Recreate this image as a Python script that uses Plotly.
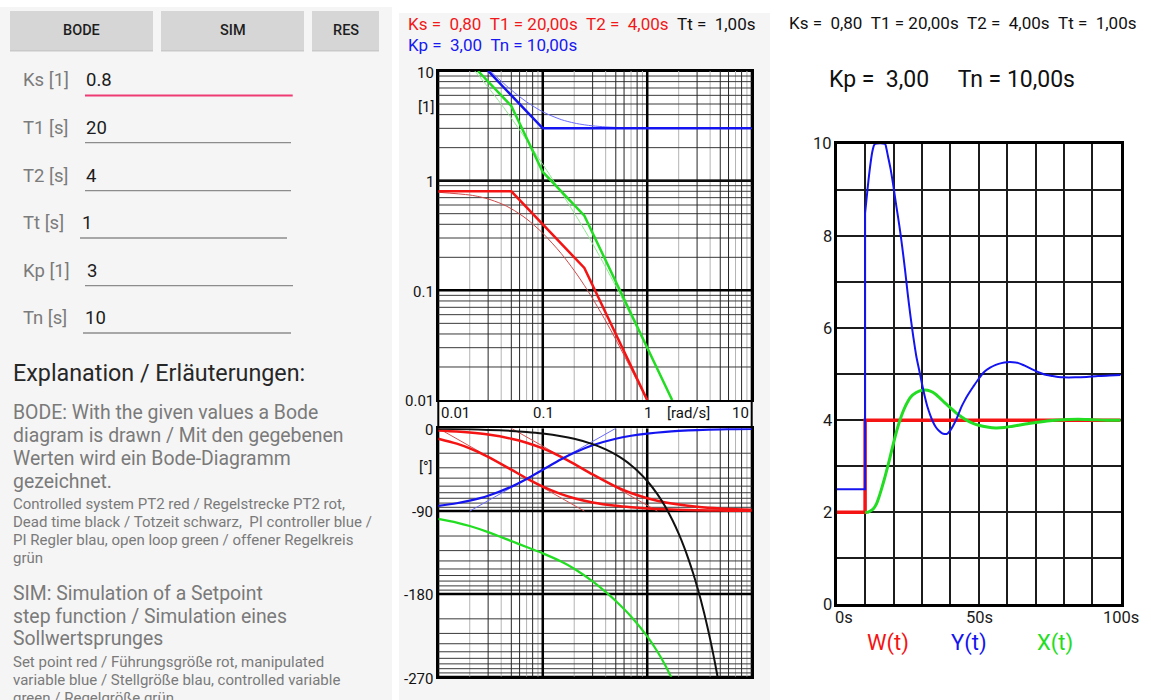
import math
import plotly.graph_objects as go

W, H = 1151, 700
FONT = "Roboto"

RED, BLUE, GREEN, BLACK = "#f51414", "#1414f0", "#22dd22", "#111111"

# ---------------- Bode magnitude (|G|) ----------------
# exact curves (thin)
W_RED = [0.01, 0.02, 0.025, 0.03, 0.04, 0.05, 0.07, 0.1, 0.15, 0.2, 0.25, 0.3, 0.4, 0.5, 0.7, 1.0]
MAG_RED = [0.784, 0.740, 0.712, 0.681, 0.617, 0.555, 0.448, 0.332, 0.217, 0.1515, 0.111, 0.0842,
           0.0526, 0.0356, 0.0192, 0.0097]
W_BLUE = [0.025, 0.03, 0.04, 0.05, 0.07, 0.1, 0.15, 0.2, 0.25, 0.3, 0.4, 0.5, 0.7, 1.0, 1.5, 2.0, 3.0, 5.0, 10.0]
MAG_BLUE = [12.37, 10.44, 8.08, 6.71, 5.23, 4.243, 3.606, 3.354, 3.231, 3.162, 3.092, 3.059, 3.030,
            3.015, 3.007, 3.004, 3.002, 3.001, 3.0]
W_GREEN = [0.02, 0.025, 0.03, 0.04, 0.05, 0.07, 0.1, 0.15, 0.2, 0.25, 0.3, 0.4, 0.5, 0.7, 1.0, 1.5, 2.0]
MAG_GREEN = [11.32, 8.81, 7.11, 4.985, 3.72, 2.343, 1.409, 0.7825, 0.508, 0.358, 0.2662, 0.1626,
             0.1089, 0.0582, 0.0292, 0.01317, 0.00745]

# asymptotes (thick)
W_RED_ASY = [0.01, 0.05, 0.25, 1.0]
MAG_RED_ASY = [0.8, 0.8, 0.16, 0.01]
W_BLUE_ASY = [0.03, 0.1, 10.0]
MAG_BLUE_ASY = [10.0, 3.0, 3.0]
W_GREEN_ASY = [0.024, 0.05, 0.1, 0.25, 1.732]
MAG_GREEN_ASY = [10.0, 4.8, 1.2, 0.48, 0.01]
W_DEAD_MAG = [0.01, 10.0]
MAG_DEAD = [1.0, 1.0]

# ---------------- Bode phase (deg) ----------------
W_PH = [0.01, 0.015, 0.02, 0.03, 0.05, 0.07, 0.1, 0.15, 0.2, 0.3, 0.5, 0.7, 1.0, 1.5, 2.0, 3.0, 5.0, 7.0, 10.0]
PH_PT1_A = [-11.31, -16.70, -21.80, -30.96, -45.00, -54.46, -63.43, -71.57, -75.96, -80.54, -84.29,
            -85.91, -87.14, -88.09, -88.57, -89.05, -89.43, -89.59, -89.71]
PH_PT1_B = [-2.29, -3.43, -4.57, -6.84, -11.31, -15.64, -21.80, -30.96, -38.66, -50.19, -63.43,
            -70.35, -75.96, -80.54, -82.87, -85.24, -87.14, -87.95, -88.57]
PH_PI = [-84.29, -81.47, -78.69, -73.30, -63.43, -55.01, -45.00, -33.69, -26.57, -18.43, -11.31,
         -8.13, -5.71, -3.81, -2.86, -1.91, -1.15, -0.82, -0.57]

W_DT = [0.01, 0.02, 0.03, 0.05, 0.07, 0.1, 0.15, 0.2, 0.3, 0.4, 0.5, 0.6, 0.7, 0.8, 1.0, 1.25, 1.5,
        1.75, 2.0, 2.25, 2.5, 2.75, 3.0, 3.25, 3.5, 3.75, 4.0, 4.25, 4.5, 4.75]
PH_DT = [-0.57, -1.15, -1.72, -2.86, -4.01, -5.73, -8.59, -11.46, -17.19, -22.92, -28.65, -34.38,
         -40.11, -45.84, -57.30, -71.62, -85.94, -100.27, -114.59, -128.92, -143.24, -157.56,
         -171.89, -186.21, -200.54, -214.86, -229.18, -243.51, -257.83, -272.16]

W_OL = [0.01, 0.015, 0.02, 0.03, 0.05, 0.07, 0.1, 0.15, 0.2, 0.3, 0.4, 0.5, 0.7, 1.0, 1.25, 1.5, 1.75]
PH_OL = [-98.46, -102.46, -106.21, -112.82, -122.60, -129.12, -135.96, -144.81, -152.65, -166.35,
         -177.82, -187.68, -204.50, -226.11, -242.59, -258.38, -273.77]

W_PT1_A_ASY, PH_PT1_A_ASY = [0.01, 0.25], [0.0, -90.0]
W_PT1_B_ASY, PH_PT1_B_ASY = [0.05, 1.25], [0.0, -90.0]
W_PI_ASY, PH_PI_ASY = [0.02, 0.5], [-90.0, 0.0]

# ---------------- step response ----------------
T_W = [0, 10, 10, 100]
W_T = [2, 2, 4, 4]
# manipulated variable: constant part and jump at the setpoint step
T_Y_STEP = [0, 10, 10]
Y_T_STEP = [2.5, 2.5, 8.5]
# manipulated variable after the step
T_Y = [10, 10.5, 11, 11.5, 12, 12.5, 13, 13.5, 17, 17.5, 18, 19, 20, 21, 22, 23, 24, 25, 26,
       27, 28, 29, 30, 31, 32, 33, 34, 35, 36, 37, 38, 39, 40, 41, 42, 43, 44, 45, 46, 48, 50, 52,
       54, 56, 58, 60, 62, 64, 66, 68, 70, 72, 74, 76, 78, 80, 84, 88, 92, 96, 100]
Y_T = [8.5, 8.8, 9.1, 9.38, 9.62, 9.82, 9.95, 10.0, 10.0, 9.9, 9.75, 9.45, 9.07, 8.65,
       8.25, 7.8, 7.3, 6.75, 6.25, 5.8, 5.4, 5.1, 4.8, 4.52, 4.28, 4.1, 3.95, 3.84, 3.77, 3.72, 3.7,
       3.71, 3.78, 3.88, 4.0, 4.15, 4.3, 4.42, 4.53, 4.72, 4.9, 5.05, 5.14, 5.2, 5.24, 5.26, 5.26,
       5.24, 5.19, 5.13, 5.07, 5.02, 4.98, 4.96, 4.94, 4.93, 4.93, 4.94, 4.96, 4.97, 4.98]
T_X = [10, 11, 12, 13, 14, 15, 16, 17, 18, 19, 20, 21, 22, 23, 24, 25, 26, 28, 30, 32, 34, 36, 38,
       40, 42, 44, 46, 48, 50, 53, 56, 59, 62, 66, 70, 75, 80, 85, 90, 95, 100]
X_T = [2.0, 2.0, 2.03, 2.08, 2.18, 2.35, 2.55, 2.77, 3.0, 3.25, 3.5, 3.74, 3.95, 4.13, 4.28, 4.4,
       4.5, 4.6, 4.65, 4.65, 4.6, 4.5, 4.38, 4.27, 4.16, 4.07, 3.99, 3.93, 3.89, 3.85, 3.83, 3.84,
       3.87, 3.91, 3.95, 3.99, 4.01, 4.02, 4.01, 4.0, 4.0]

DECADES = [0.01, 0.1, 1.0]
MINOR_K = [2, 3, 4, 5, 6, 7, 8, 9]
LIGHT_K = [2, 4, 7, 9]


def nb(s):
    return s.replace(" ", "\u00a0")


def px(x):
    return x / W


def py(y):
    return 1 - y / H


fig = go.Figure()


def line_trace(x, y, xa, ya, color, width, shape="linear"):
    fig.add_trace(go.Scatter(x=x, y=y, xaxis=xa, yaxis=ya, mode="lines", hoverinfo="skip",
                             line=dict(color=color, width=width, shape=shape, smoothing=0.8)))


def seg_lists(pairs):
    xs, ys = [], []
    for (x0, y0, x1, y1) in pairs:
        xs += [x0, x1, None]
        ys += [y0, y1, None]
    return xs, ys


# ---- log grids of the Bode diagram ----
minor_w_dark = [k * d for d in DECADES for k in MINOR_K if k not in LIGHT_K]
minor_w_light = [k * d for d in DECADES for k in MINOR_K if k in LIGHT_K]
minor_mag = [k * d for d in DECADES for k in MINOR_K]
minor_ph = [top - 90 * math.log10(k) for top in (0, -90, -180) for k in MINOR_K]

for xa, ya, ylo, yhi, hvals, hmajor in (("x", "y", 0.01, 10, minor_mag, [0.1, 1.0]),
                                        ("x2", "y2", -270, 0, minor_ph, [-90, -180])):
    xs, ys = seg_lists([(w, ylo, w, yhi) for w in minor_w_light])
    line_trace(xs, ys, xa, ya, "#b4b4b4", 1)
    xs, ys = seg_lists([(0.01, v, 10, v) for v in hvals])
    line_trace(xs, ys, xa, ya, "#3a3a3a", 1)
    xs, ys = seg_lists([(w, ylo, w, yhi) for w in minor_w_dark])
    line_trace(xs, ys, xa, ya, "#262626", 1)
    xs, ys = seg_lists([(w, ylo, w, yhi) for w in (0.1, 1.0)] + [(0.01, v, 10, v) for v in hmajor])
    line_trace(xs, ys, xa, ya, "#000000", 2.5)

# ---- magnitude curves ----
line_trace(W_DEAD_MAG, MAG_DEAD, "x", "y", BLACK, 2)
line_trace(W_RED, MAG_RED, "x", "y", "#d04848", 1, "spline")
line_trace(W_RED_ASY, MAG_RED_ASY, "x", "y", RED, 2.5)
line_trace(W_BLUE, MAG_BLUE, "x", "y", "#6a6aff", 1, "spline")
line_trace(W_BLUE_ASY, MAG_BLUE_ASY, "x", "y", BLUE, 2.5)
line_trace(W_GREEN, MAG_GREEN, "x", "y", "#8ee88e", 1, "spline")
line_trace(W_GREEN_ASY, MAG_GREEN_ASY, "x", "y", GREEN, 2.5)

# ---- phase curves ----
line_trace(W_PT1_A_ASY, PH_PT1_A_ASY, "x2", "y2", "#d85050", 1)
line_trace(W_PT1_B_ASY, PH_PT1_B_ASY, "x2", "y2", "#d85050", 1)
line_trace(W_PH, PH_PT1_A, "x2", "y2", RED, 2.5, "spline")
line_trace(W_PH, PH_PT1_B, "x2", "y2", RED, 2.5, "spline")
line_trace(W_PI_ASY, PH_PI_ASY, "x2", "y2", "#6a6aff", 1)
line_trace(W_PH, PH_PI, "x2", "y2", BLUE, 2.2, "spline")
line_trace(W_DT, PH_DT, "x2", "y2", BLACK, 2, "spline")
line_trace(W_OL, PH_OL, "x2", "y2", GREEN, 2.2, "spline")

# ---- step response ----
line_trace(T_W, W_T, "x3", "y3", RED, 3.5)
line_trace(T_X, X_T, "x3", "y3", GREEN, 3, "spline")
line_trace(T_Y_STEP, Y_T_STEP, "x3", "y3", BLUE, 2)
line_trace(T_Y, Y_T, "x3", "y3", BLUE, 2, "spline")

# ---------------- layout: backgrounds, buttons, fields ----------------
shapes = []


def rect(x0, y0, x1, y1, fill, line_color=None, lw=0, layer="below"):
    shapes.append(dict(type="rect", xref="paper", yref="paper", x0=px(x0), x1=px(x1), y0=py(y1), y1=py(y0),
                       fillcolor=fill, line=dict(color=line_color or fill, width=lw), layer=layer))


def hline(x0, x1, y, color, width):
    shapes.append(dict(type="line", xref="paper", yref="paper", x0=px(x0), x1=px(x1), y0=py(y), y1=py(y),
                       line=dict(color=color, width=width), layer="above"))


rect(0, 7, 392, 700, "#f5f5f5")
rect(399, 13, 770, 700, "#f5f5f5")
rect(438.3, 71, 751.7, 676.7, "#ffffff", "#000000", 2)

for (x0, x1) in ((10, 153), (161, 304), (312, 379)):
    rect(x0, 12.5, x1, 51.5, "#c9c9c9")
    rect(x0, 11, x1, 50, "#d6d6d6")

FIELDS = [("Ks [1]", "0.8", 80, 95.5, 22, 85, 85, 292.7),
          ("T1 [s]", "20", 128, 142.7, 22, 85, 85, 291),
          ("T2 [s]", "4", 176, 190.7, 22, 85, 85, 291),
          ("Tt [s]", "1", 223, 238, 22, 80.5, 80, 287),
          ("Kp [1]", "3", 271, 285.7, 22, 86, 85, 293),
          ("Tn [s]", "10", 318, 333, 22, 84, 83, 291)]

anns = []


def text(x, y, s, size, color="#222222", anchor="left", weight="normal"):
    anns.append(dict(x=px(x), y=py(y), xref="paper", yref="paper", text=s, showarrow=False,
                     xanchor=anchor, yanchor="middle",
                     font=dict(family=FONT, size=size, color=color, weight=weight)))


text(81.5, 31, "BODE", 14.5, "#1e1e1e", "center", 500)
text(232.5, 31, "SIM", 14.5, "#1e1e1e", "center", 500)
text(345.5, 31, "RES", 14.5, "#1e1e1e", "center", 500)

for i, (lab, val, ty, uy, lx, vx, ux0, ux1) in enumerate(FIELDS):
    text(lx - 1, ty, nb(lab), 18.5, "#7b7b7b")
    text(vx - 1, ty, val, 18.5, "#1c1c1c")
    if i == 0:
        hline(ux0, ux1, uy, "#ef3b74", 2)
    else:
        hline(ux0, ux1, uy, "#8c8c8c", 1.3)

text(11, 373, "Explanation / Erläuterungen:", 23.3, "#272727")
BODY_1 = ["BODE: With the given values a Bode", "diagram is drawn / Mit den gegebenen",
          "Werten wird ein Bode-Diagramm", "gezeichnet."]
SMALL_1 = ["Controlled system PT2 red / Regelstrecke PT2 rot,",
           "Dead time black / Totzeit schwarz,  PI controller blue /",
           "PI Regler blau, open loop green / offener Regelkreis", "grün"]
BODY_2 = ["SIM: Simulation of a Setpoint", "step function / Simulation eines", "Sollwertsprunges"]
SMALL_2 = ["Set point red / Führungsgröße rot, manipulated",
           "variable blue / Stellgröße blau, controlled variable", "green / Regelgröße grün"]
for j, s in enumerate(BODY_1):
    text(11, 412.7 + 22.8 * j, s, 19.4, "#7a7a7a")
for j, s in enumerate(SMALL_1):
    text(11, 504.3 + 18 * j, nb(s), 15, "#7a7a7a")
for j, s in enumerate(BODY_2):
    text(11, 593.3 + 22.7 * j, s, 19.4, "#7a7a7a")
for j, s in enumerate(SMALL_2):
    text(11, 661.7 + 18 * j, s, 15, "#7a7a7a")

# ---- Bode headers and labels ----
text(406, 24, "<span style='color:#f01818'>" + nb("Ks =  0,80  T1 = 20,00s  T2 =  4,00s") + "</span>"
     + nb("  Tt =  1,00s"), 17, "#111111")
text(406, 45, nb("Kp =  3,00  Tn = 10,00s"), 17, "#1818f0")

for s, y in (("10", 73), ("[1]", 107), ("1", 182), ("0.1", 292), ("0.01", 401)):
    text(436, y, s, 15, "#111111", "right")
for s, y in (("0", 430), ("[°]", 467), ("-90", 512), ("-180", 595), ("-270", 679)):
    text(435, y, s, 15, "#111111", "right")
text(439, 413, "0.01", 15, "#111111", "left")
text(543, 413, "0.1", 15, "#111111", "center")
text(648, 413, "1", 15, "#111111", "center")
text(665, 413, "[rad/s]", 15, "#111111", "left")
text(751, 413, "10", 15, "#111111", "right")

# ---- step response headers and labels ----
text(787, 23, nb("Ks =  0,80  T1 = 20,00s  T2 =  4,00s  Tt =  1,00s"), 17, "#111111")
text(827, 79, nb("Kp =  3,00     Tn = 10,00s"), 23, "#111111")
for v in (0, 2, 4, 6, 8, 10):
    text(834, 604.3 - 46.03 * v, str(v), 16.5, "#1a1a1a", "right")
text(833, 617, "0s", 16.5, "#1a1a1a", "left")
text(979, 617, "50s", 16.5, "#1a1a1a", "center")
text(1141, 617, "100s", 16.5, "#1a1a1a", "right")
text(887.5, 643, "W(t)", 22, RED, "center")
text(969, 643, "Y(t)", 22, BLUE, "center")
text(1055, 643, "X(t)", 22, GREEN, "center")

frame = dict(showline=True, mirror=True, linecolor="#000000", linewidth=2, showgrid=False,
             zeroline=False, showticklabels=False, ticks="", fixedrange=True)
fig.update_layout(
    width=W, height=H, margin=dict(l=0, r=0, t=0, b=0),
    paper_bgcolor="#ffffff", plot_bgcolor="#ffffff", showlegend=False, hovermode=False,
    shapes=shapes, annotations=anns,
    xaxis=dict(type="log", range=[-2, 1], domain=[px(438.3), px(751.7)], anchor="y", **frame),
    yaxis=dict(type="log", range=[-2, 1], domain=[py(400), py(71)], anchor="x", **frame),
    xaxis2=dict(type="log", range=[-2, 1], domain=[px(438.3), px(751.7)], anchor="y2", **frame),
    yaxis2=dict(range=[-270, 0], domain=[py(676.7), py(428.3)], anchor="x2", **frame),
    xaxis3=dict(range=[0, 100], domain=[px(836.7), px(1120.7)], anchor="y3", showline=True, mirror=True,
                linecolor="#000000", linewidth=3, showgrid=True, gridcolor="#1c1c1c", gridwidth=2,
                dtick=10, zeroline=False, showticklabels=False, ticks="", fixedrange=True),
    yaxis3=dict(range=[0, 10], domain=[py(604.3), py(144)], anchor="x3", showline=True, mirror=True,
                linecolor="#000000", linewidth=3, showgrid=True, gridcolor="#1c1c1c", gridwidth=2,
                dtick=1, zeroline=False, showticklabels=False, ticks="", fixedrange=True),
)

fig.write_html("out.html")
